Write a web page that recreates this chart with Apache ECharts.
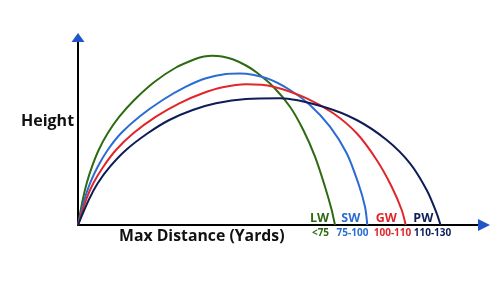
<!DOCTYPE html>
<html>
<head>
<meta charset="utf-8">
<script src="https://cdn.jsdelivr.net/npm/echarts@6/dist/echarts.min.js"></script>
<style>html,body{margin:0;padding:0;background:#fff;}#c{width:500px;height:282px;}</style>
</head>
<body>
<div id="c"></div>
<script>
// Trajectory points: [distance, height] in arbitrary units
const clubs = ['LW', 'SW', 'GW', 'PW'];
const ranges = ['<75', '75-100', '100-110', '110-130'];
const lwPath = [[0,0],[4.7,25],[8.7,41.7],[14,58.3],[20.7,75],[29.7,91.7],[41.3,108.3],[56.3,125],[76.3,143],[98,157.5],[118,166.3],[126,168.5],[134,169.3],[144,168.6],[154.7,165.7],[168,159.5],[178.7,152.5],[195.3,138.3],[212,118.3],[225.3,95],[237,68.3],[247,38.3],[253.7,15],[257,0]];
const swPath = [[0,0],[6.3,25],[12,41.7],[19.7,58.3],[29.7,75],[43,91.7],[61.3,108.3],[84.7,125],[108,138.3],[128,146.7],[148,151],[162,151.5],[188.7,146.7],[212,135],[232,120],[252,98.3],[268.7,71.7],[280.3,41.7],[287,18.3],[289.3,0]];
const gwPath = [[0,0],[8,25],[15.3,41.7],[25.3,58.3],[38,75],[55.3,91.7],[78,108.3],[101.3,121.7],[124.7,131.7],[144.7,137.7],[168,140.7],[195.3,138.3],[228.7,126.7],[255.3,111.7],[278.7,91.7],[298.7,65],[313.7,38.3],[323.7,15],[327.7,0]];
const pwPath = [[0,0],[10.7,25],[19.7,41.7],[32,58.3],[48,75],[69.7,91.7],[91.3,105],[114.7,115],[138,121.7],[168,126],[202,126.7],[245.3,118.3],[278.7,105],[308.7,85],[332,61.7],[348.7,35],[358.7,11.7],[362.5,0]];
const xMax = 406;
const yMax = 187.5;

const colors = ['#2e6a12', '#2b6cd4', '#e1262b', '#0e1d56'];
const arrowColor = '#1f55c8';
const FONT = '"Open Sans", sans-serif';
const paths = [lwPath, swPath, gwPath, pwPath];

const chart = echarts.init(document.getElementById('c'), null, {renderer: 'canvas'});

const series = paths.map((p, i) => ({
  name: clubs[i],
  type: 'line',
  data: p,
  smooth: 0.3,
  showSymbol: false,
  silent: true,
  lineStyle: {color: colors[i], width: 2},
  z: 3
}));

series.push({
  type: 'line',
  data: [],
  silent: true,
  markPoint: {
    silent: true,
    label: {show: false},
    data: [
      {coord: [xMax, 0], symbol: 'triangle', symbolSize: [12, 12], symbolRotate: -90, itemStyle: {color: arrowColor}},
      {coord: [0, yMax], symbol: 'triangle', symbolSize: [13, 9], symbolRotate: 0, itemStyle: {color: arrowColor}}
    ]
  }
});

const labelX = [319.5, 350.8, 386.2, 423.3];
const rangeX = [320.5, 352.5, 392.5, 432.5];
const graphics = [
  {type: 'text', left: 21, top: 113, style: {text: 'Height', font: 'bold 16px ' + FONT, fill: '#111'}},
  {type: 'text', left: 119, top: 228, style: {text: 'Max Distance (Yards)', font: 'bold 15.8px ' + FONT, fill: '#111'}}
];
clubs.forEach((c, i) => {
  graphics.push({type: 'text', x: labelX[i], y: 218.5, style: {text: c, font: 'bold 12.5px ' + FONT, fill: colors[i], align: 'center', verticalAlign: 'middle'}});
  graphics.push({type: 'text', x: rangeX[i], y: 233.5, style: {text: ranges[i], font: 'bold 10px ' + FONT, fill: colors[i], align: 'center', verticalAlign: 'middle'}});
});

chart.setOption({
  animation: false,
  backgroundColor: '#ffffff',
  grid: {left: 78, right: 16, top: 37.5, bottom: 57, containLabel: false},
  xAxis: {
    type: 'value', min: 0, max: xMax,
    axisLine: {show: true, lineStyle: {color: '#000', width: 2}},
    axisTick: {show: false}, axisLabel: {show: false}, splitLine: {show: false}
  },
  yAxis: {
    type: 'value', min: 0, max: yMax,
    axisLine: {show: true, lineStyle: {color: '#000', width: 2}},
    axisTick: {show: false}, axisLabel: {show: false}, splitLine: {show: false}
  },
  series: series,
  graphic: graphics
});
</script>
</body>
</html>
